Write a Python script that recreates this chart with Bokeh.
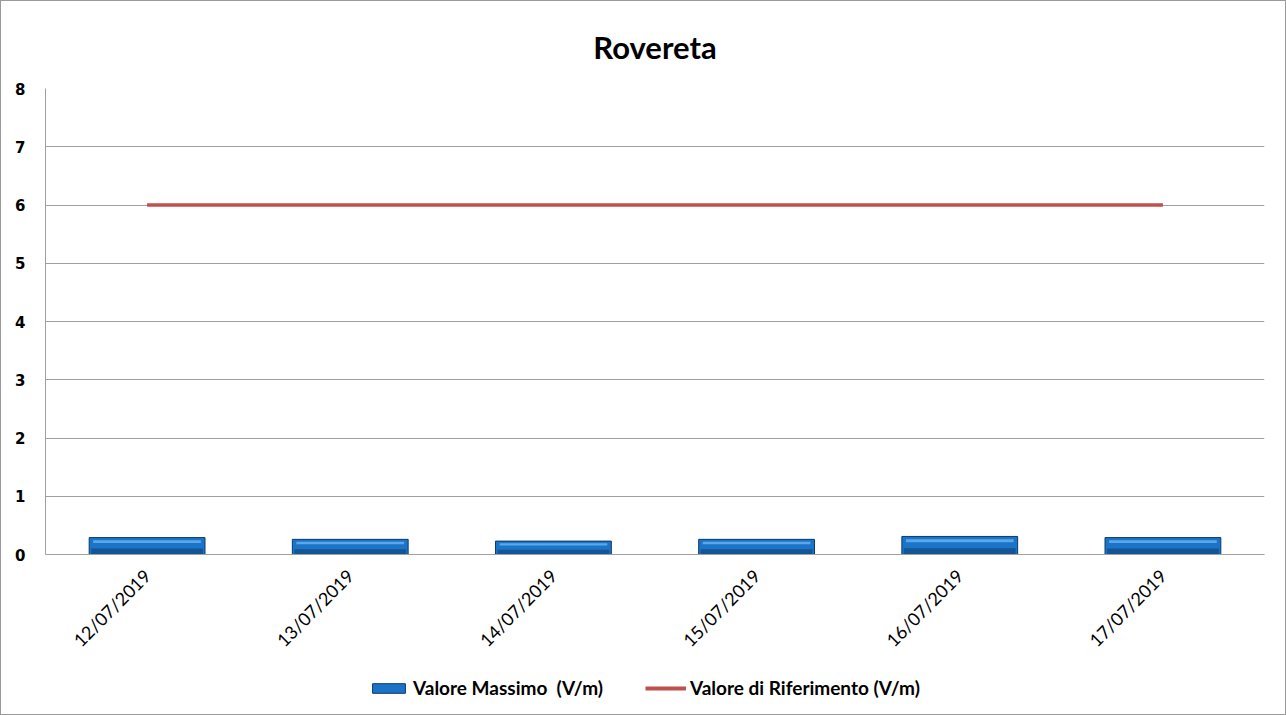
import math
from bokeh.plotting import figure
from bokeh.layouts import column
from bokeh.models import ColumnDataSource, Legend, LegendItem, FactorRange, Range1d
from bokeh.embed import file_html
from bokeh.resources import INLINE

# Daily measurements at Rovereta
dates = ["12/07/2019", "13/07/2019", "14/07/2019", "15/07/2019", "16/07/2019", "17/07/2019"]
valore_massimo = [0.29, 0.26, 0.23, 0.26, 0.31, 0.29]
valore_riferimento = [6, 6, 6, 6, 6, 6]
series_labels = ["Valore Massimo  (V/m)", "Valore di Riferimento (V/m)"]

BAR_FILL = "#1b74c8"
BAR_EDGE = "#0b3a66"
REF_COLOR = "#c0504d"

src = ColumnDataSource(dict(
    x=dates,
    top=valore_massimo,
    dark=[v * 0.35 for v in valore_massimo],
    hi_lo=[v * 0.68 for v in valore_massimo],
    hi_hi=[v * 0.84 for v in valore_massimo],
    ref=valore_riferimento,
))

W = 1284          # inner width (page has a 1px frame around everything)
LEGEND_H = 46
MAIN_H = 715 - 2 - LEGEND_H

p = figure(
    width=W, height=MAIN_H,
    x_range=FactorRange(*dates, range_padding=0),
    y_range=Range1d(0, 8),
    output_backend="svg", toolbar_location=None,
    min_border_left=44, min_border_right=21, min_border_top=87,
    min_border_bottom=114,
)

p.title.text = "Rovereta"
p.title.align = "center"
p.title.text_font = "Lato"
p.title.text_font_size = "31px"
p.title.text_font_style = "bold"
p.title.text_color = "#000000"
p.title.offset = 0
p.title.standoff = 46

p.outline_line_color = None

# bars with a bevelled look
p.vbar(x="x", top="top", bottom=0, width=0.57, source=src,
       fill_color=BAR_FILL, line_color=BAR_EDGE, line_width=1)
p.vbar(x="x", top="dark", bottom=0, width=0.55, source=src,
       fill_color="#135595", line_color=None)
p.vbar(x="x", top="hi_hi", bottom="hi_lo", width=0.53, source=src,
       fill_color="#5aa8ec", line_color=None)

p.line(x="x", y="ref", source=src, line_color=REF_COLOR, line_width=3.5)

# axes
p.yaxis.ticker = [0, 1, 2, 3, 4, 5, 6, 7, 8]
p.yaxis.major_label_text_font = "DejaVu Sans"
p.yaxis.major_label_text_font_style = "bold"
p.yaxis.major_label_text_font_size = "15px"
p.yaxis.major_label_text_color = "#000000"
p.yaxis.axis_line_color = "#a0a0a0"
p.yaxis.major_tick_line_color = None
p.yaxis.minor_tick_line_color = None
p.yaxis.major_label_standoff = 14

p.xaxis.axis_line_color = "#a0a0a0"
p.xaxis.major_tick_line_color = None
p.xaxis.minor_tick_line_color = None
p.xaxis.major_label_orientation = math.pi / 4
p.xaxis.major_label_text_font = "Lato"
p.xaxis.major_label_text_font_size = "18px"
p.xaxis.major_label_text_color = "#000000"
p.xaxis.major_label_standoff = 12

p.xgrid.grid_line_color = None
p.ygrid.grid_line_color = "#a0a0a0"
p.ygrid.grid_line_width = 1

# legend strip underneath the chart
lg = figure(
    width=W, height=LEGEND_H,
    x_range=Range1d(0, 1), y_range=Range1d(0, 1),
    output_backend="svg", toolbar_location=None,
    min_border=0,
)
lg.axis.visible = False
lg.grid.visible = False
lg.outline_line_color = None
# a single off-screen point so the legend has glyphs to draw
leg_src = ColumnDataSource(dict(x=[-5.0], y=[-5.0]))
r_bar = lg.vbar(x="x", top="y", width=0.1, source=leg_src,
                fill_color=BAR_FILL, line_color=BAR_EDGE, line_width=1)
r_ref = lg.line(x="x", y="y", source=leg_src, line_color=REF_COLOR, line_width=4)

legend = Legend(items=[
    LegendItem(label=series_labels[0], renderers=[r_bar]),
    LegendItem(label=series_labels[1], renderers=[r_ref]),
], orientation="horizontal", location=(323, 15))
legend.label_text_font = "Lato"
legend.label_text_font_style = "bold"
legend.label_text_font_size = "19px"
legend.label_text_color = "#000000"
legend.border_line_color = None
legend.background_fill_alpha = 0
legend.glyph_width = 41
legend.glyph_height = 12
legend.spacing = 42
legend.label_standoff = 4
legend.padding = 0
legend.margin = 0
lg.add_layout(legend, "center")

layout = column(p, lg, spacing=0)
layout.styles = {"border": "1px solid #9a9a9a"}

open("out.html", "w").write(file_html(layout, INLINE))
